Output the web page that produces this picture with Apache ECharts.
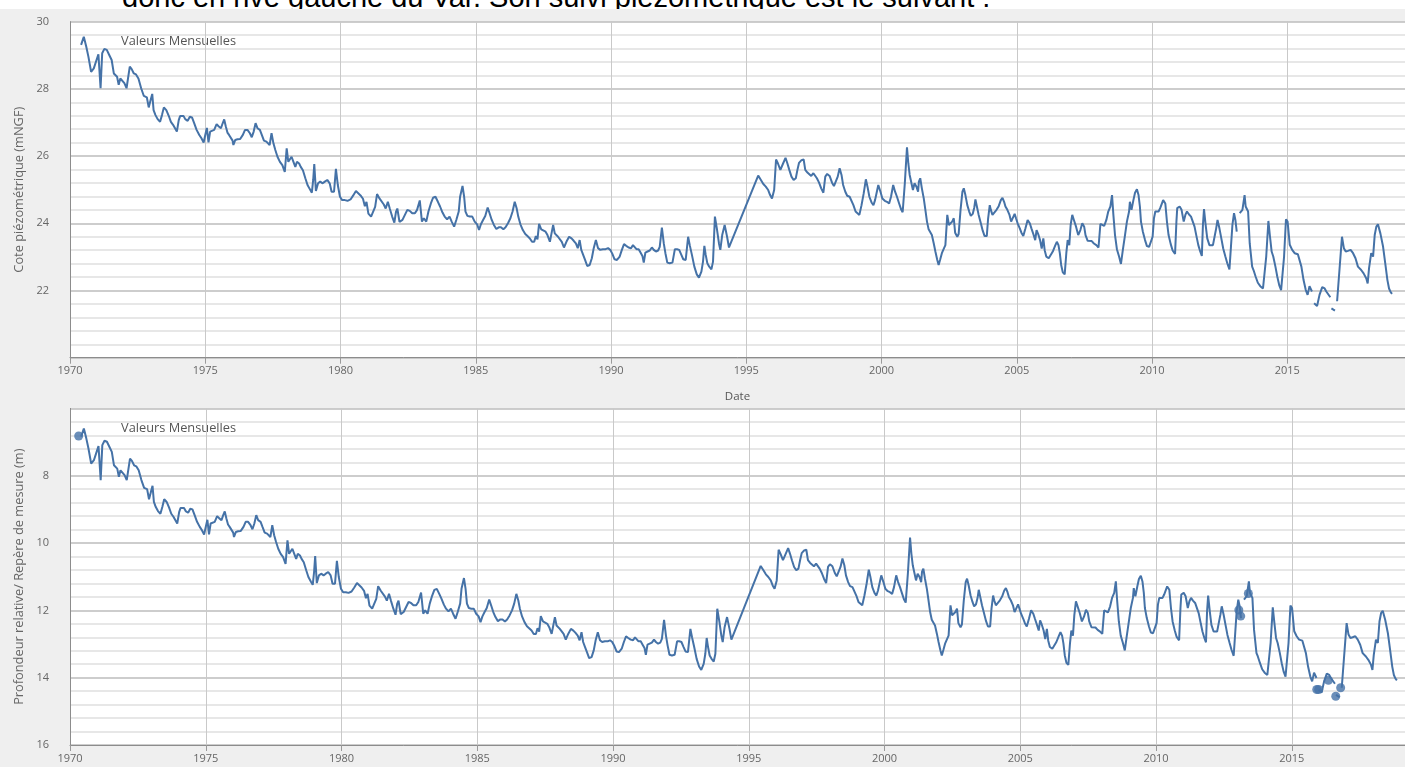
<!DOCTYPE html>
<html lang="fr">
<head>
<meta charset="utf-8">
<title>Piézométrie - valeurs mensuelles</title>
<script src="https://cdn.jsdelivr.net/npm/echarts@6/dist/echarts.min.js"></script>
<style>
  html, body { margin: 0; padding: 0; background: #ffffff; }
  #page { position: relative; width: 1405px; height: 767px; overflow: hidden; }
  #chart { position: absolute; left: 0; top: 8px; width: 1405px; height: 759px; }
  #intro {
    position: absolute; left: 0; top: 0; width: 1405px; height: 9px; overflow: hidden;
    background: #ffffff; z-index: 2;
  }
  #intro span {
    position: absolute; left: 122px; top: -17.5px; white-space: nowrap;
    font-family: "Liberation Sans", Arial, sans-serif; font-size: 29px; line-height: 29px; color: #000;
  }
</style>
</head>
<body>
<div id="page">
  <div id="intro"><span>donc en rive gauche du Var. Son suivi piézométrique est le suivant :</span></div>
  <div id="chart"></div>
</div>
<script>
// Dates des mesures (années décimales), une ligne par année
const dates = [
  1970.41,1970.51,1970.60,1970.68,1970.78,1970.88,1970.98,
  1971.05,1971.13,1971.19,1971.27,1971.36,1971.45,1971.54,1971.62,1971.68,1971.74,1971.80,1971.86,1971.93,
  1972.01,1972.09,1972.15,1972.21,1972.28,1972.36,1972.44,1972.53,1972.63,1972.73,1972.84,1972.91,1972.98,
  1973.04,1973.09,1973.16,1973.24,1973.33,1973.40,1973.47,1973.56,1973.65,1973.73,1973.81,1973.88,1973.95,
  1974.02,1974.07,1974.13,1974.20,1974.26,1974.35,1974.43,1974.51,1974.59,1974.68,1974.78,1974.86,1974.94,
  1975.00,1975.06,1975.12,1975.18,1975.24,1975.33,1975.42,1975.49,1975.58,1975.64,1975.70,1975.76,1975.82,1975.88,1975.95,
  1976.01,1976.04,1976.11,1976.19,1976.29,1976.39,1976.47,1976.56,1976.65,1976.72,1976.79,1976.86,1976.93,
  1977.02,1977.09,1977.17,1977.26,1977.33,1977.38,1977.45,1977.52,1977.59,1977.67,1977.76,1977.85,1977.94,
  1978.01,1978.07,1978.13,1978.19,1978.26,1978.33,1978.39,1978.47,1978.53,1978.61,1978.70,1978.78,1978.87,1978.94,1978.99,
  1979.03,1979.09,1979.17,1979.25,1979.34,1979.42,1979.51,1979.60,1979.67,1979.76,1979.83,1979.90,1979.98,
  1980.06,1980.16,1980.26,1980.37,1980.47,1980.57,1980.64,1980.74,1980.83,1980.90,1980.96,
  1981.03,1981.13,1981.19,1981.28,1981.35,1981.44,1981.51,1981.60,1981.67,1981.75,1981.82,1981.91,1981.99,
  1982.05,1982.10,1982.18,1982.29,1982.38,1982.47,1982.56,1982.65,1982.75,1982.83,1982.93,
  1983.01,1983.08,1983.17,1983.25,1983.34,1983.42,1983.51,1983.60,1983.68,1983.77,1983.85,1983.94,
  1984.03,1984.11,1984.20,1984.28,1984.37,1984.42,1984.51,1984.57,1984.62,1984.69,1984.78,1984.87,1984.96,
  1985.05,1985.12,1985.19,1985.27,1985.35,1985.44,1985.51,1985.59,1985.67,1985.76,1985.85,1985.93,
  1986.02,1986.10,1986.19,1986.28,1986.36,1986.44,1986.51,1986.57,1986.65,1986.74,1986.83,1986.91,
  1987.00,1987.08,1987.16,1987.22,1987.28,1987.34,1987.42,1987.49,1987.58,1987.65,1987.74,1987.80,1987.86,1987.92,1987.98,
  1988.04,1988.11,1988.18,1988.26,1988.35,1988.45,1988.54,1988.62,1988.70,1988.77,1988.84,1988.90,1988.97,
  1989.04,1989.12,1989.21,1989.29,1989.36,1989.44,1989.52,1989.60,1989.70,1989.80,1989.89,1989.97,
  1990.05,1990.13,1990.22,1990.32,1990.40,1990.48,1990.56,1990.65,1990.74,1990.81,1990.88,1990.94,
  1991.02,1991.09,1991.16,1991.21,1991.27,1991.35,1991.43,1991.51,1991.58,1991.66,1991.74,1991.80,1991.88,1991.95,
  1992.01,1992.08,1992.17,1992.27,1992.36,1992.44,1992.52,1992.60,1992.67,1992.76,1992.85,1992.91,1992.99,
  1993.08,1993.17,1993.25,1993.34,1993.40,1993.45,1993.50,1993.56,1993.63,1993.71,1993.77,1993.84,1993.92,1993.99,
  1994.04,1994.11,1994.20,1994.29,1994.36,
  1995.44,1995.54,1995.63,1995.72,1995.81,1995.88,1995.95,
  1996.03,1996.10,1996.17,1996.26,1996.36,1996.45,1996.52,1996.59,1996.67,1996.75,1996.83,1996.89,1996.95,
  1997.04,1997.12,1997.18,1997.26,1997.33,1997.40,1997.48,1997.55,1997.61,1997.69,1997.77,1997.85,1997.92,1997.99,
  1998.08,1998.17,1998.24,1998.30,1998.38,1998.45,1998.52,1998.58,1998.66,1998.73,1998.82,1998.89,1998.96,
  1999.04,1999.11,1999.18,1999.26,1999.34,1999.42,1999.48,1999.55,1999.63,1999.70,1999.76,1999.84,1999.88,1999.96,
  2000.03,2000.12,2000.20,2000.28,2000.35,2000.43,2000.50,2000.57,2000.65,2000.72,2000.78,2000.86,2000.94,2000.99,
  2001.04,2001.10,2001.16,2001.22,2001.29,2001.35,2001.38,2001.43,2001.49,2001.56,2001.62,2001.68,2001.74,2001.80,2001.86,2001.93,2001.99,
  2002.06,2002.11,2002.17,2002.23,2002.31,2002.36,2002.43,2002.49,2002.55,2002.61,2002.67,2002.72,2002.80,2002.85,2002.92,2002.99,
  2003.04,2003.10,2003.17,2003.24,2003.30,2003.37,2003.43,2003.47,2003.53,2003.59,2003.67,2003.74,2003.81,2003.89,2003.94,
  2004.00,2004.04,2004.10,2004.17,2004.25,2004.33,2004.41,2004.47,2004.53,2004.58,2004.65,2004.73,2004.79,2004.85,2004.92,2004.97,
  2005.03,2005.11,2005.17,2005.24,2005.32,2005.40,2005.48,2005.54,2005.61,2005.68,2005.73,2005.79,2005.86,2005.92,2005.98,
  2006.03,2006.09,2006.18,2006.25,2006.33,2006.41,2006.48,2006.54,2006.59,2006.64,2006.70,2006.77,2006.83,2006.88,2006.94,2006.99,
  2007.05,2007.11,2007.19,2007.27,2007.35,2007.42,2007.49,2007.54,2007.62,2007.69,2007.77,2007.85,2007.94,
  2008.02,2008.09,2008.16,2008.23,2008.31,2008.38,2008.46,2008.52,2008.57,2008.63,2008.70,2008.78,2008.85,2008.92,
  2009.00,2009.07,2009.15,2009.18,2009.24,2009.31,2009.37,2009.44,2009.50,2009.55,2009.59,2009.66,2009.74,2009.81,2009.89,2009.96,
  2010.02,2010.07,2010.12,2010.18,2010.24,2010.30,2010.37,2010.41,2010.49,2010.55,2010.61,2010.69,2010.76,2010.85,2010.90,2010.93,
  2011.02,2011.09,2011.17,2011.23,2011.29,2011.36,2011.44,2011.51,2011.57,2011.65,2011.71,2011.78,2011.84,2011.88,2011.92,2011.98,
  2012.04,2012.12,2012.19,2012.25,2012.31,2012.37,2012.42,2012.49,2012.56,2012.63,2012.71,2012.78,2012.86,2012.92,2012.97,
  2013.03,2013.08,2013.13,2013.18,2013.24,2013.34,2013.42,2013.46,2013.55,2013.61,2013.70,2013.75,2013.83,2013.91,
  2014.00,2014.10,2014.16,2014.22,2014.30,2014.36,2014.42,2014.48,2014.56,2014.63,2014.70,2014.77,2014.83,2014.88,2014.95,
  2015.01,2015.09,2015.18,2015.27,2015.39,2015.45,2015.52,2015.60,2015.68,2015.75,2015.82,2015.91,2015.95,2015.99,
  2016.10,2016.19,2016.29,2016.38,2016.44,2016.51,2016.59,2016.61,2016.63,2016.76,2016.80,2016.84,
  2017.02,2017.09,2017.16,2017.24,2017.34,2017.43,2017.52,2017.61,2017.73,2017.82,2017.92,2017.97,
  2018.02,2018.10,2018.17,2018.23,2018.29,2018.35,2018.44,2018.54,2018.62,2018.70,2018.76,2018.82,2018.87
];

// Cote piézométrique (m NGF) ; null = lacune de mesure
const cote = [
  29.31,29.55,29.26,28.96,28.51,28.61,28.86,
  29.03,28.02,29.06,29.19,29.16,29.01,28.86,28.46,28.51,28.36,28.12,28.31,28.26,
  28.17,28.02,27.99,28.66,28.59,28.46,28.43,28.31,28.02,27.79,27.75,27.45,27.67,
  27.85,27.37,27.22,27.10,27.02,27.22,27.45,27.37,27.20,27.02,26.93,26.98,26.73,
  27.07,27.19,27.14,27.19,27.10,27.05,27.17,27.15,26.98,26.78,26.63,26.53,26.40,
  26.63,26.84,26.41,26.73,26.78,26.78,26.95,26.89,26.83,26.97,27.09,26.88,26.70,26.63,26.68,
  26.46,26.33,26.48,26.50,26.51,26.63,26.78,26.78,26.68,26.56,26.73,26.98,26.83,
  26.78,26.63,26.46,26.43,26.48,26.33,26.68,26.38,26.18,25.98,25.83,25.73,25.53,
  26.23,25.83,25.88,25.98,25.83,25.68,25.83,25.78,25.68,25.58,25.34,25.14,25.01,24.91,25.29,
  25.76,24.96,25.19,25.24,25.19,25.24,25.29,25.19,24.94,24.94,25.62,25.14,24.79,
  24.69,24.69,24.67,24.71,24.83,24.96,24.93,24.83,24.73,24.51,24.64,
  24.29,24.20,24.18,24.49,24.87,24.74,24.69,24.56,24.44,24.64,24.44,24.20,24.02,
  24.34,24.44,24.04,24.10,24.25,24.40,24.37,24.30,24.30,24.40,24.68,
  24.05,24.15,24.05,24.35,24.59,24.76,24.79,24.64,24.50,24.32,24.20,24.12,
  24.20,24.05,23.90,24.10,24.35,24.79,25.11,24.79,24.35,24.22,24.20,24.20,24.05,
  23.97,23.80,23.97,24.10,24.22,24.47,24.30,24.10,23.95,23.83,23.88,23.88,
  23.82,23.88,24.00,24.15,24.35,24.64,24.45,24.20,23.97,23.80,23.68,23.62,
  23.55,23.45,23.45,23.62,23.52,23.98,23.82,23.82,23.75,23.65,23.45,23.70,23.95,23.70,23.75,
  23.60,23.58,23.45,23.28,23.45,23.60,23.55,23.48,23.40,23.26,23.50,23.21,23.06,
  22.91,22.73,22.76,22.96,23.26,23.50,23.26,23.21,23.23,23.23,23.26,23.21,
  23.09,22.93,22.91,23.01,23.21,23.38,23.33,23.28,23.26,23.35,23.40,23.23,
  23.23,23.13,23.03,22.83,23.13,23.16,23.19,23.28,23.21,23.16,23.19,23.30,23.87,23.40,
  23.11,22.83,22.81,22.83,23.23,23.23,23.21,23.06,22.93,22.91,23.60,23.35,23.06,
  22.71,22.48,22.38,22.56,22.86,23.33,23.06,22.81,22.71,22.63,22.86,24.20,23.80,23.40,
  23.21,23.65,23.95,23.60,23.28,
  25.42,25.29,25.17,25.09,24.99,24.84,24.74,
  24.99,25.90,25.78,25.59,25.78,25.95,25.78,25.59,25.39,25.29,25.34,25.59,25.80,
  25.88,25.90,25.59,25.51,25.49,25.41,25.49,25.52,25.34,25.21,25.04,24.91,25.39,25.47,
  25.41,25.21,25.11,25.14,25.39,25.64,25.44,25.14,24.94,24.82,24.79,24.74,24.54,
  24.35,24.38,24.25,24.54,24.89,25.31,25.09,24.79,24.62,24.54,24.69,24.99,25.14,24.94,
  24.74,24.67,24.64,24.59,24.79,25.14,24.94,24.79,24.59,24.42,24.33,25.19,26.26,25.78,
  25.44,25.49,24.99,25.19,25.09,24.94,25.24,25.34,25.04,24.74,24.40,24.05,23.82,23.77,23.65,23.40,23.16,
  22.91,22.76,22.93,23.11,23.26,23.35,24.25,23.95,23.95,24.05,24.15,23.72,23.60,23.68,24.40,24.94,
  25.04,24.84,24.54,24.35,24.22,24.28,24.48,24.71,24.48,24.25,24.00,23.78,23.62,23.62,24.15,
  24.54,24.40,24.25,24.30,24.40,24.51,24.69,24.76,24.64,24.50,24.40,24.25,24.05,24.00,24.28,24.15,
  24.00,23.85,23.72,23.62,23.85,24.10,24.00,23.85,23.68,23.50,23.80,23.68,23.50,23.25,23.55,
  23.20,23.01,22.96,23.01,23.16,23.32,23.45,23.35,23.11,22.76,22.54,22.48,23.11,23.50,23.35,23.95,
  24.25,24.10,23.90,23.65,23.80,24.00,23.90,23.65,23.48,23.48,23.47,23.40,23.35,
  23.28,23.98,23.98,23.92,24.10,24.35,24.50,24.84,24.25,23.65,23.23,23.01,22.79,23.21,
  23.65,24.05,24.35,24.64,24.40,24.69,24.91,25.01,24.84,24.50,24.05,23.75,23.50,23.32,23.30,23.25,
  23.60,24.15,24.35,24.40,24.35,24.45,24.40,24.69,24.59,24.05,23.65,23.38,23.19,23.09,24.05,24.45,
  24.50,24.40,24.05,24.25,24.35,24.27,24.20,24.15,23.90,23.58,23.35,23.16,23.03,23.95,24.42,23.95,
  23.55,23.35,23.32,23.35,23.60,23.85,24.10,23.85,23.55,23.25,23.01,22.81,22.63,23.35,23.95,
  24.30,24.10,23.75,null,24.30,24.40,24.84,24.50,24.35,23.40,22.71,22.61,22.41,22.23,
  22.13,22.06,22.01,23.01,24.07,23.60,23.16,23.01,22.71,22.41,22.16,22.01,21.96,23.01,24.12,
  24.05,23.36,23.21,23.11,23.08,23.06,22.71,22.31,22.02,21.87,22.13,21.97,null,21.62,
  21.54,21.87,22.10,22.06,21.97,21.92,21.80,null,21.47,21.40,null,21.68,
  23.60,23.26,23.16,23.18,23.21,23.11,22.96,22.71,22.61,22.51,22.36,22.21,
  22.66,23.11,23.01,23.65,23.90,23.97,23.70,23.30,22.81,22.31,22.06,21.95,21.90
];

// Profondeur de l'eau sous le repère de mesure (m) ; null = lacune de mesure
const profondeur = [
  6.84,6.60,6.89,7.19,7.64,7.54,7.29,
  7.12,8.13,7.09,6.96,6.99,7.14,7.29,7.69,7.64,7.79,8.03,7.84,7.89,
  7.98,8.13,8.16,7.49,7.56,7.69,7.72,7.84,8.13,8.36,8.40,8.70,8.48,
  8.30,8.78,8.93,9.05,9.13,8.93,8.70,8.78,8.95,9.13,9.22,9.17,9.42,
  9.08,8.96,9.01,8.96,9.05,9.10,8.98,9.00,9.17,9.37,9.52,9.62,9.75,
  9.52,9.31,9.74,9.42,9.37,9.37,9.20,9.26,9.32,9.18,9.06,9.27,9.45,9.52,9.47,
  9.69,9.82,9.67,9.65,9.64,9.52,9.37,9.37,9.47,9.59,9.42,9.17,9.32,
  9.37,9.52,9.69,9.72,9.67,9.82,9.47,9.77,9.97,10.17,10.32,10.42,10.62,
  9.92,10.32,10.27,10.17,10.32,10.47,10.32,10.37,10.47,10.57,10.81,11.01,11.14,11.24,10.86,
  10.39,11.19,10.96,10.91,10.96,10.91,10.86,10.96,11.21,11.21,10.53,11.01,11.36,
  11.46,11.46,11.48,11.44,11.32,11.19,11.22,11.32,11.42,11.64,11.51,
  11.86,11.95,11.97,11.66,11.28,11.41,11.46,11.59,11.71,11.51,11.71,11.95,12.13,
  11.81,11.71,12.11,12.05,11.90,11.75,11.78,11.85,11.85,11.75,11.47,
  12.10,12.00,12.10,11.80,11.56,11.39,11.36,11.51,11.65,11.83,11.95,12.03,
  11.95,12.10,12.25,12.05,11.80,11.36,11.04,11.36,11.80,11.93,11.95,11.95,12.10,
  12.18,12.35,12.18,12.05,11.93,11.68,11.85,12.05,12.20,12.32,12.27,12.27,
  12.33,12.27,12.15,12.00,11.80,11.51,11.70,11.95,12.18,12.35,12.47,12.53,
  12.60,12.70,12.70,12.53,12.63,12.17,12.33,12.33,12.40,12.50,12.70,12.45,12.20,12.45,12.40,
  12.55,12.57,12.70,12.87,12.70,12.55,12.60,12.67,12.75,12.89,12.65,12.94,13.09,
  13.24,13.42,13.39,13.19,12.89,12.65,12.89,12.94,12.92,12.92,12.89,12.94,
  13.06,13.22,13.24,13.14,12.94,12.77,12.82,12.87,12.89,12.80,12.75,12.92,
  12.92,13.02,13.12,13.32,13.02,12.99,12.96,12.87,12.94,12.99,12.96,12.85,12.28,12.75,
  13.04,13.32,13.34,13.32,12.92,12.92,12.94,13.09,13.22,13.24,12.55,12.80,13.09,
  13.44,13.67,13.77,13.59,13.29,12.82,13.09,13.34,13.44,13.52,13.29,11.95,12.35,12.75,
  12.94,12.50,12.20,12.55,12.87,
  10.68,10.81,10.93,11.01,11.11,11.26,11.36,
  11.11,10.20,10.32,10.51,10.32,10.15,10.32,10.51,10.71,10.81,10.76,10.51,10.30,
  10.22,10.20,10.51,10.59,10.61,10.69,10.61,10.58,10.76,10.89,11.06,11.19,10.71,10.63,
  10.69,10.89,10.99,10.96,10.71,10.46,10.66,10.96,11.16,11.28,11.31,11.36,11.56,
  11.75,11.72,11.85,11.56,11.21,10.79,11.01,11.31,11.48,11.56,11.41,11.11,10.96,11.16,
  11.36,11.43,11.46,11.51,11.31,10.96,11.16,11.31,11.51,11.68,11.77,10.91,9.84,10.32,
  10.66,10.61,11.11,10.91,11.01,11.16,10.86,10.76,11.06,11.36,11.70,12.05,12.28,12.33,12.45,12.70,12.94,
  13.19,13.34,13.17,12.99,12.84,12.75,11.85,12.15,12.15,12.05,11.95,12.38,12.50,12.42,11.70,11.16,
  11.06,11.26,11.56,11.75,11.88,11.82,11.62,11.39,11.62,11.85,12.10,12.32,12.48,12.48,11.95,
  11.56,11.70,11.85,11.80,11.70,11.59,11.41,11.34,11.46,11.60,11.70,11.85,12.05,12.10,11.82,11.95,
  12.10,12.25,12.38,12.48,12.25,12.00,12.10,12.25,12.42,12.60,12.30,12.42,12.60,12.85,12.55,
  12.90,13.09,13.14,13.09,12.94,12.78,12.65,12.75,12.99,13.34,13.56,13.62,12.99,12.60,12.75,12.15,
  11.73,11.88,12.08,12.33,12.18,11.98,12.08,12.33,12.50,12.50,12.51,12.58,12.63,
  12.70,12.00,12.00,12.06,11.88,11.63,11.48,11.14,11.73,12.33,12.75,12.97,13.19,12.77,
  12.33,11.93,11.63,11.34,11.58,11.29,11.07,10.97,11.14,11.48,11.93,12.23,12.48,12.66,12.68,12.73,
  12.38,11.83,11.63,11.58,11.63,11.53,11.58,11.29,11.39,11.93,12.33,12.60,12.79,12.89,11.93,11.53,
  11.48,11.58,11.93,11.73,11.63,11.71,11.78,11.83,12.08,12.40,12.63,12.82,12.95,12.03,11.56,12.03,
  12.43,12.63,12.66,12.63,12.38,12.13,11.88,12.13,12.43,12.73,12.97,13.17,13.35,12.63,12.03,
  11.68,11.88,12.23,null,11.68,11.58,11.14,11.48,11.63,12.58,13.27,13.37,13.57,13.75,
  13.85,13.92,13.97,12.97,11.91,12.38,12.82,12.97,13.27,13.57,13.82,13.97,14.02,12.97,11.86,
  11.93,12.62,12.77,12.87,12.90,12.92,13.27,13.67,13.96,14.11,13.85,14.01,null,14.36,
  14.44,14.11,13.88,13.92,14.01,14.06,14.18,null,14.51,14.58,null,14.30,
  12.38,12.72,12.82,12.80,12.77,12.87,13.02,13.27,13.37,13.47,13.62,13.77,
  13.32,12.87,12.97,12.33,12.08,12.01,12.28,12.68,13.17,13.67,13.92,14.03,14.08
];

// Mesures isolées (entourées de lacunes), tracées en points
const isolesDates = [1970.32, 2013.05, 2013.12, 2013.40, 2015.92, 2015.99, 2016.35, 2016.62, 2016.80];
const isolesProfondeur = [6.82, 11.99, 12.17, 11.50, 14.35, 14.35, 14.08, 14.55, 14.30];

// Graduations
const anneeDebut = 1970;
const pasAnnees = 5;
const coteMin = 20, coteMax = 30, cotePas = 2;
const profMin = 6, profMax = 16, profPas = 2;

const serieLabel = 'Valeurs Mensuelles';
const titreCote = 'Cote piézométrique (mNGF)';
const titreProf = 'Profondeur relative/ Repère de mesure (m)';
const titreDate = 'Date';

const bleu = '#4572a7';
const police = '"Open Sans", "DejaVu Sans", sans-serif';

const dataCote = dates.map((d, i) => [d, cote[i]]);
const dataProf = dates.map((d, i) => [d, profondeur[i]]);
const dataIsoles = isolesDates.map((d, i) => [d, isolesProfondeur[i]]);

function yearLabel(v) {
  const r = Math.round(v);
  if (Math.abs(v - r) > 1e-6 || r % pasAnnees !== 0) return '';
  return String(r);
}

function xAxisFor(gridIndex, max, withName) {
  return {
    gridIndex: gridIndex,
    type: 'value',
    min: anneeDebut,
    max: max,
    interval: pasAnnees,
    name: withName ? titreDate : '',
    nameLocation: 'middle',
    nameGap: 33,
    nameTextStyle: { color: '#555', fontSize: 11.5, fontFamily: police },
    axisLine: { show: true, onZero: false, lineStyle: { color: '#8c8c8c', width: 1 } },
    axisTick: { show: true, length: 6, lineStyle: { color: '#9a9a9a' } },
    axisLabel: {
      color: '#666', fontSize: 11, fontFamily: police, margin: 8,
      showMaxLabel: false, formatter: yearLabel
    },
    splitLine: { show: true, lineStyle: { color: '#c9c9c9', width: 1 } }
  };
}

function yAxisFor(gridIndex, min, max, step, inverse, name) {
  return {
    gridIndex: gridIndex,
    type: 'value',
    min: min,
    max: max,
    interval: step,
    inverse: inverse,
    name: name,
    nameLocation: 'middle',
    nameGap: 44,
    nameTextStyle: { color: '#666', fontSize: 12.8, fontFamily: police },
    axisLine: { show: true, lineStyle: { color: '#8c8c8c', width: 1 } },
    axisTick: { show: false },
    axisLabel: {
      color: '#666', fontSize: 11, fontFamily: police, margin: 21,
      showMinLabel: false
    },
    splitLine: { show: true, lineStyle: { color: '#bcbcbc', width: 1.5 } },
    minorTick: { show: false, splitNumber: 5 },
    minorSplitLine: { show: true, lineStyle: { color: '#e7e7e7', width: 2 } }
  };
}

const chart = echarts.init(document.getElementById('chart'), null, { renderer: 'canvas' });

// grid positions are relative to the chart box, which starts 8px below the page top
chart.setOption({
  animation: false,
  backgroundColor: '#efefef',
  grid: [
    { left: 70, right: 0, top: 13.7, height: 336, show: true, backgroundColor: '#ffffff', borderWidth: 0 },
    { left: 70, right: 0, top: 400.4, height: 336.6, show: true, backgroundColor: '#ffffff', borderWidth: 0 }
  ],
  xAxis: [
    xAxisFor(0, 2019.35, true),
    xAxisFor(1, 2019.17, false)
  ],
  yAxis: [
    yAxisFor(0, coteMin, coteMax, cotePas, false, titreCote),
    yAxisFor(1, profMin, profMax, profPas, true, titreProf)
  ],
  series: [
    {
      name: serieLabel, type: 'line', xAxisIndex: 0, yAxisIndex: 0,
      data: dataCote, showSymbol: false, connectNulls: false, smooth: false,
      lineStyle: { color: bleu, width: 2 }, itemStyle: { color: bleu }
    },
    {
      name: serieLabel, type: 'line', xAxisIndex: 1, yAxisIndex: 1,
      data: dataProf, showSymbol: false, connectNulls: false, smooth: false,
      lineStyle: { color: bleu, width: 2 }, itemStyle: { color: bleu }
    },
    {
      name: serieLabel, type: 'scatter', xAxisIndex: 1, yAxisIndex: 1,
      data: dataIsoles, symbol: 'circle', symbolSize: 9,
      itemStyle: { color: bleu }
    }
  ],
  graphic: [
    { type: 'text', left: 121, top: 27, style: { text: serieLabel, fill: '#555', font: '12.8px ' + police } },
    { type: 'text', left: 121, top: 414, style: { text: serieLabel, fill: '#555', font: '12.8px ' + police } }
  ]
});
</script>
</body>
</html>
